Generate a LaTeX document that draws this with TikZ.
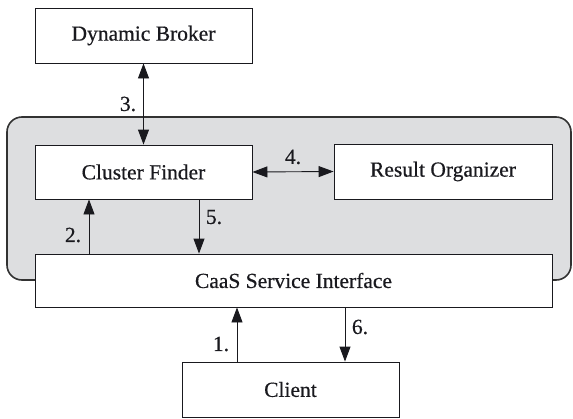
\documentclass[tikz,border=0pt]{standalone}
\usepackage{fontspec}
\setmainfont{Liberation Serif}
\newfontfamily\boxfont[FakeBold=0.5]{Liberation Serif}
\usetikzlibrary{arrows.meta}
\definecolor{panelgray}{RGB}{221,222,224}
\definecolor{edgegray}{RGB}{50,50,50}
\definecolor{inkc}{RGB}{25,25,30}
\begin{document}
\begin{tikzpicture}[x=1pt,y=-1pt,
  box/.style={draw=inkc,line width=0.9pt,fill=white,inner sep=0pt,text=inkc,
    font=\boxfont\fontsize{21.5}{25}\selectfont},
  lbl/.style={text=inkc,inner sep=0pt,font=\boxfont\fontsize{21.5}{25}\selectfont},
  arr/.style={draw=inkc,line width=0.9pt,-{Triangle[length=15pt,width=11pt]}},
  darr/.style={draw=inkc,line width=0.9pt,{Triangle[length=15pt,width=11pt]}-{Triangle[length=15pt,width=11pt]}}]
\useasboundingbox (0,0) rectangle (573,418);
\draw[fill=panelgray,draw=edgegray,line width=1.6pt,rounded corners=15pt] (7,117) rectangle (571,280);
\node[box,minimum width=217pt,minimum height=55pt] (DB) at (143.5,35.5) {Dynamic Broker};
\node[box,minimum width=217pt,minimum height=54pt] (CF) at (143.5,172) {Cluster Finder};
\node[box,minimum width=218pt,minimum height=55pt] (RO) at (443,171.5) {Result Organizer};
\node[box,minimum width=517pt,minimum height=53pt] (CaaS) at (293.5,280.5) {CaaS Service Interface};
\node[box,minimum width=217pt,minimum height=55pt] (Client) at (290.5,389.5) {Client};
\coordinate (x2) at (89,0);
\coordinate (x5) at (199,0);
\coordinate (x1) at (237,0);
\coordinate (x6) at (345,0);
\draw[darr] (DB.south) -- (CF.north);
\draw[darr] (CF.east) -- (RO.west);
\draw[arr] (CaaS.north -| x2) -- (CF.south -| x2);
\draw[arr] (CF.south -| x5) -- (CaaS.north -| x5);
\draw[arr] (Client.north -| x1) -- (CaaS.south -| x1);
\draw[arr] (CaaS.south -| x6) -- (Client.north -| x6);
\node[lbl] (l3) at (128,104) {3.};
\node[lbl] (l4) at (293,157) {4.};
\node[lbl] (l2) at (73,235) {2.};
\node[lbl] (l5) at (214,217) {5.};
\node[lbl] (l1) at (221,344) {1.};
\node[lbl] (l6) at (360,327) {6.};
\end{tikzpicture}
\end{document}
